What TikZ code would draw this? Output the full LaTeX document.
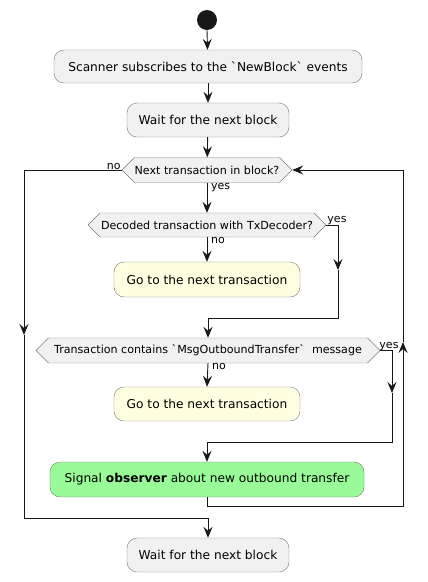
\documentclass[tikz,border=0pt]{standalone}
\usepackage{fontspec}
\setmainfont{DejaVu Sans}
\usetikzlibrary{shapes.symbols, arrows.meta}

\definecolor{actgray}{HTML}{F1F1F1}
\definecolor{skipyellow}{HTML}{FEFEE0}
\definecolor{signalgreen}{HTML}{98FB98}
\definecolor{edgegray}{HTML}{7A7A7A}
\definecolor{linedark}{HTML}{181818}

\tikzset{
  act/.style={draw=edgegray, fill=actgray, rounded corners=10pt, inner sep=0pt,
    font=\fontsize{12.2}{14}\selectfont},
  skip/.style={act, fill=skipyellow},
  notify/.style={act, fill=signalgreen},
  choice/.style={draw=edgegray, fill=actgray, shape=signal, signal to=west and east,
    inner sep=0pt, minimum height=25pt, font=\fontsize{11.1}{13}\selectfont},
  lbl/.style={font=\fontsize{11}{13}\selectfont, inner sep=1pt},
  arr/.style={-{Stealth[length=11pt, width=9pt, inset=4pt]}, line width=0.9pt, draw=linedark}
}

\begin{document}
\begin{tikzpicture}[x=1pt, y=-1pt]
  % Fix the page size
  \useasboundingbox (0,0) rectangle (428,582);
  % Start point
  \fill[linedark] (207,20) circle (10);
  \coordinate (start) at (207,30);
  % Activities and decisions
  \node[act, minimum width=308, minimum height=33] (subscribe) at (208,66.5) {Scanner subscribes to the \textasciigrave NewBlock\textasciigrave\ events};
  \node[act, minimum width=162, minimum height=34] (wait) at (208,120) {Wait for the next block};
  \node[choice, minimum width=170] (nexttx) at (207,170) {Next transaction in block?};
  \node[choice, minimum width=238, minimum height=24] (decoded) at (207,225) {Decoded transaction with TxDecoder?};
  \node[skip, minimum width=186, minimum height=35] (skipa) at (207,279.5) {Go to the next transaction};
  \node[choice, minimum width=344] (contains) at (208,350.5) {Transaction contains \textasciigrave MsgOutboundTransfer\textasciigrave\ \ message};
  \node[skip, minimum width=186, minimum height=34] (skipb) at (207,404) {Go to the next transaction};
  \node[notify, minimum width=314, minimum height=35] (observer) at (207,479.5) {Signal \textbf{observer} about new outbound transfer};
  \node[act, minimum width=162, minimum height=34] (waitend) at (208,555) {Wait for the next block};
  % Bend points of the side branches
  \coordinate (noarrow) at (24,335);
  \coordinate (nocorner) at (24,518);
  \coordinate (yesdec) at (338,270);
  \coordinate (yesdecend) at (338,318);
  \coordinate (yesmsg) at (392,393);
  \coordinate (yesmsgend) at (392,442);
  \coordinate (loopcorner) at (403,506);
  \coordinate (looparrow) at (403,342);
  % Straight arrows down the middle
  \draw[arr] (start) -- (subscribe);
  \draw[arr] (subscribe) -- (wait);
  \draw[arr] (wait) -- (nexttx);
  \draw[arr] (nexttx.south) -- (decoded.north);
  \draw[arr] (decoded.south) -- (skipa.north);
  \draw[arr] (contains.south) -- (skipb.north);
  % No more transactions
  \draw[arr] (nexttx.west) -| (noarrow);
  \draw[arr] (noarrow) -- (nocorner) -| (waitend.north);
  % Decoded
  \draw[arr] (decoded.east) -| (yesdec);
  \draw[arr] (yesdec) -- (yesdecend) -| (contains.north);
  % Message found
  \draw[arr] (contains.east) -| (yesmsg);
  \draw[arr] (yesmsg) -- (yesmsgend) -| (observer.north);
  % Back to the loop
  \draw[arr] (observer.south) |- (loopcorner) -- (looparrow);
  \draw[arr] (looparrow) |- (nexttx.east);
  % Branch labels
  \node[lbl, anchor=south east] (nolabela) at ([yshift=-1]nexttx.west) {no};
  \node[lbl, anchor=north west] (yeslabela) at ([xshift=3,yshift=1]nexttx.south) {yes};
  \node[lbl, anchor=south west] (yeslabelb) at ([yshift=-1]decoded.east) {yes};
  \node[lbl, anchor=north west] (nolabelb) at ([xshift=3,yshift=1]decoded.south) {no};
  \node[lbl, anchor=south west] (yeslabelc) at ([xshift=-2,yshift=-1]contains.east) {yes};
  \node[lbl, anchor=north west] (nolabelc) at ([xshift=3,yshift=1]contains.south) {no};
\end{tikzpicture}
\end{document}
